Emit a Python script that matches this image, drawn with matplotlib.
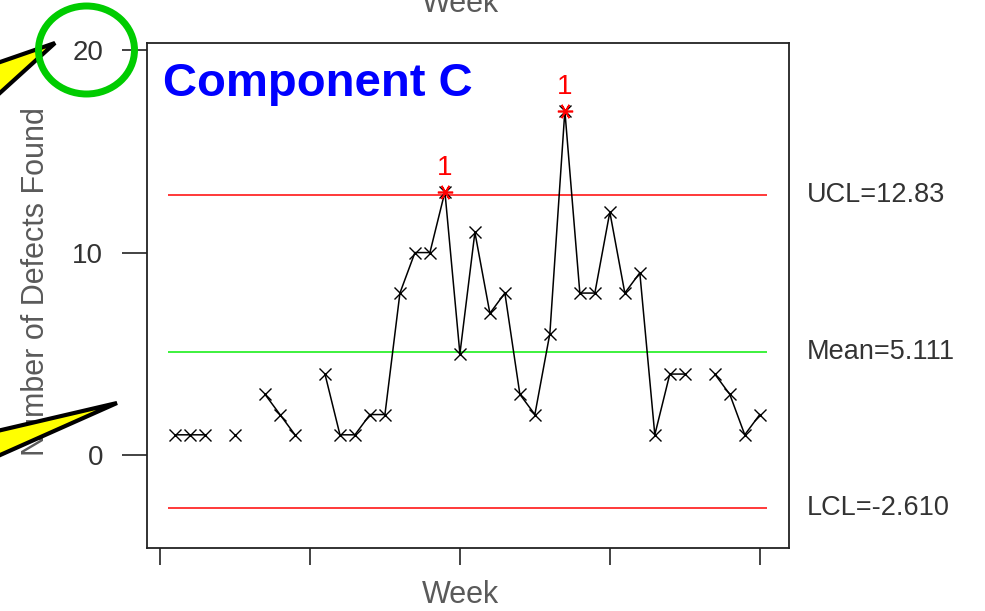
import numpy as np
import matplotlib
matplotlib.use("Agg")
import matplotlib.pyplot as plt
from matplotlib.patches import Polygon, Ellipse

plt.rcParams["font.family"] = ["Liberation Sans", "DejaVu Sans"]

# weekly defect counts for component C (nan = no data that week)
weeks = np.arange(1, 41)
defects = np.array([
    1, 1, 1, np.nan, 1, np.nan, 3, 2, 1, np.nan,
    4, 1, 1, 2, 2, 8, 10, 10, 13, 5,
    11, 7, 8, 3, 2, 6, 17, 8, 8, 12,
    8, 9, 1, 4, 4, np.nan, 4, 3, 1, 2,
])
mean = 5.111
ucl = 12.83
lcl = -2.610
limit_labels = ["UCL=12.83", "Mean=5.111", "LCL=-2.610"]
x_ticks = [0, 10, 20, 30, 40]
y_ticks = [0, 10, 20]

W, H = 985, 611
fig = plt.figure(figsize=(W / 100, H / 100), dpi=100)
ax = fig.add_axes([147 / W, 1 - 548 / H, 642 / W, 505 / H])

gray = "#5a5a5a"
dark = "#333333"

ax.hlines([ucl, lcl], 0.5, 40.5, color="#ff2a2a", lw=1.3, zorder=1)
ax.hlines(mean, 0.5, 40.5, color="#2ef02e", lw=1.3, zorder=1)

ax.plot(weeks, defects, color="black", lw=1.1, marker="x",
        markersize=9, mew=1.0, zorder=2)

out = defects > ucl
ax.plot(weeks[out], defects[out], ls="none", marker=(6, 2, 90),
        markersize=11, mew=1.2, color="red", zorder=3)
for wk, v in zip(weeks[out], defects[out]):
    ax.annotate("1", (wk, v), xytext=(0, 8), textcoords="offset points",
                ha="center", va="bottom", color="red", fontsize=20)

# control limit labels on the right
for val, lab in zip([ucl, mean, lcl], limit_labels):
    ax.annotate(lab, (1, val), xycoords=("axes fraction", "data"),
                xytext=(13, 0), textcoords="offset points",
                ha="left", va="center", fontsize=19.5, color=dark)

ax.set_xlim(-0.87, 41.95)
ax.set_ylim(-4.59, 20.35)
ax.set_xticks(x_ticks)
ax.set_xticklabels([])
ax.set_yticks(y_ticks)
ax.set_yticklabels([str(t) for t in y_ticks], fontsize=20, color=dark)
ax.tick_params(axis="y", direction="out", length=18, width=1.2,
               color="#222222", pad=13.5)
ax.tick_params(axis="x", direction="out", length=12, width=1.2,
               color="#222222")
for s in ax.spines.values():
    s.set_color("#222222")
    s.set_linewidth(1.3)

ax.text(0.025, 0.895, "Component C", transform=ax.transAxes,
        fontsize=34, fontweight="bold", color="#0000ff",
        ha="left", va="baseline")

fig.text(460 / W, 1 - 595 / H, "Week", ha="center", va="center",
         fontsize=22, color=gray)
# bottom of the x label from the chart stacked above, cut by the edge
fig.text(460 / W, 1 - 12 / H, "Week", ha="center", va="baseline",
         fontsize=22, color=gray)
fig.text(36 / W, 1 - 282 / H, "Number of Defects Found", rotation=90,
         ha="center", va="center", fontsize=22, color=gray)

# overlay for the callout shapes, in pixel coordinates
ov = fig.add_axes([0, 0, 1, 1], zorder=10)
ov.set_xlim(0, W)
ov.set_ylim(H, 0)
ov.axis("off")
ov.patch.set_alpha(0)
ov.add_patch(Polygon([(55, 43), (-20, 69), (-20, 111)], closed=True,
                     facecolor="#ffff00", edgecolor="black", lw=3,
                     joinstyle="miter"))
ov.add_patch(Polygon([(117, 403), (-20, 435), (-20, 464)], closed=True,
                     facecolor="#ffff00", edgecolor="black", lw=3,
                     joinstyle="miter"))
ov.add_patch(Ellipse((86.5, 50), 96, 88, fill=False,
                     edgecolor="#00cc00", lw=5))

fig.savefig("out.png", dpi=100)
